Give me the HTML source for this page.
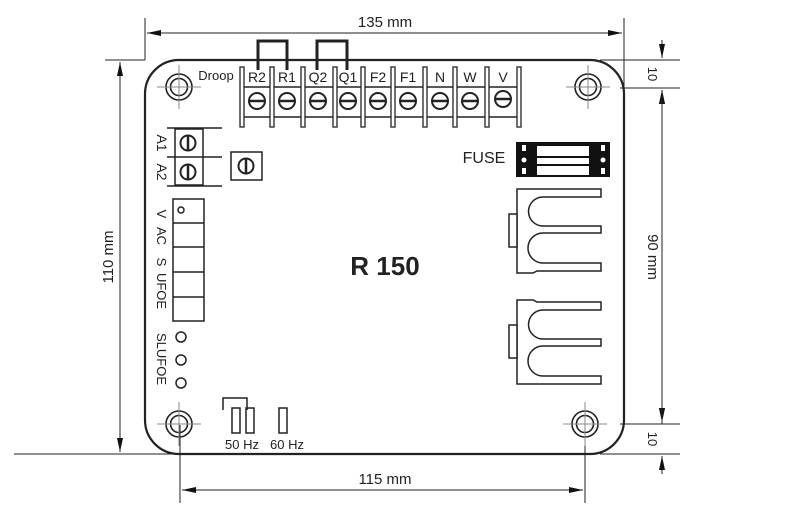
<!DOCTYPE html>
<html><head><style>body{margin:0;background:#fff}svg{display:block}</style></head><body>
<svg width="793" height="514" viewBox="0 0 793 514" xmlns="http://www.w3.org/2000/svg" font-family="Liberation Sans, sans-serif">
<defs>
<marker id="a" viewBox="0 0 10 10" refX="10" refY="5" markerWidth="14" markerHeight="6" preserveAspectRatio="none" orient="auto-start-reverse" markerUnits="userSpaceOnUse"><path d="M0,0L10,5L0,10z" fill="#111"/></marker>
<g id="hole"><circle r="13" fill="none" stroke="#222" stroke-width="1.6"/><circle r="8.5" fill="none" stroke="#222" stroke-width="1.6"/><path d="M-22,0H22M0,-22V22" stroke="#888" stroke-width="1"/></g>
<g id="scr"><circle r="8" fill="#fff" stroke="#222" stroke-width="2"/><path d="M-7,0H7" stroke="#222" stroke-width="2.5"/></g>
<g id="scv"><circle r="7.5" fill="#fff" stroke="#222" stroke-width="2"/><path d="M0,-6.5V6.5" stroke="#222" stroke-width="2.5"/></g>
</defs>
<g stroke="#222" fill="none" stroke-width="1">
<path d="M145,18V60M624,18V88M105,60H145M14,454H180M180,425V503M585,425V503M600,60H680M620,88H680M620,424H680M600,454H680"/>
<path d="M147,33H622" marker-start="url(#a)" marker-end="url(#a)"/>
<path d="M120,62V452" marker-start="url(#a)" marker-end="url(#a)"/>
<path d="M182,490H583" marker-start="url(#a)" marker-end="url(#a)"/>
<path d="M662,40V58" marker-end="url(#a)"/><path d="M662,108V90" marker-end="url(#a)"/>
<path d="M662,90V422" marker-start="url(#a)" marker-end="url(#a)"/>
<path d="M662,404V422" marker-end="url(#a)"/><path d="M662,474V456" marker-end="url(#a)"/>
<path d="M662,90V108M662,404V424"/>
<rect x="145" y="60" width="479" height="394" rx="34" stroke-width="2.2"/>
</g>
<g fill="#222" font-size="15">
<text x="385" y="27" text-anchor="middle">135 mm</text>
<text x="385" y="484" text-anchor="middle">115 mm</text>
<text transform="translate(113,257) rotate(-90)" text-anchor="middle">110 mm</text>
<text transform="translate(648,257) rotate(90)" text-anchor="middle">90 mm</text>
<text transform="translate(648,74) rotate(90)" text-anchor="middle" font-size="13">10</text>
<text transform="translate(648,439) rotate(90)" text-anchor="middle" font-size="13">10</text>
<text x="385" y="275" text-anchor="middle" font-size="26" font-weight="bold">R 150</text>
</g>
<use href="#hole" x="179" y="87"/><use href="#hole" x="588" y="87"/>
<use href="#hole" x="179" y="424"/><use href="#hole" x="585" y="424"/>
<g stroke="#222" stroke-width="1.5" fill="none">
<path d="M242,87H519M242,117H519"/>
<path d="M258,70V41H287V70M317,70V41H347V70" stroke-width="3"/>
</g>
<g fill="#fff" stroke="#222" stroke-width="1.3">
<rect x="240" y="67" width="4" height="60"/><rect x="270" y="67" width="4" height="60"/><rect x="301" y="67" width="4" height="60"/><rect x="333" y="67" width="4" height="60"/><rect x="361" y="67" width="4" height="60"/><rect x="391" y="67" width="4" height="60"/><rect x="423" y="67" width="4" height="60"/><rect x="453" y="67" width="4" height="60"/><rect x="485" y="67" width="4" height="60"/><rect x="517" y="67" width="4" height="60"/>
</g>
<use href="#scr" x="257" y="101"/><use href="#scr" x="287" y="101"/><use href="#scr" x="318" y="101"/><use href="#scr" x="348" y="101"/><use href="#scr" x="378" y="101"/><use href="#scr" x="408" y="101"/><use href="#scr" x="440" y="101"/><use href="#scr" x="470" y="101"/><use href="#scr" x="503" y="99"/>
<g fill="#222" font-size="14" text-anchor="middle">
<text x="257" y="82">R2</text><text x="287" y="82">R1</text><text x="318" y="82">Q2</text><text x="348" y="82">Q1</text><text x="378" y="82">F2</text><text x="408" y="82">F1</text><text x="440" y="82">N</text><text x="470" y="82">W</text><text x="503" y="82">V</text>
<text x="216" y="80" font-size="13">Droop</text>
<text x="484" y="163" font-size="16">FUSE</text>
</g>
<g stroke="#222" stroke-width="1.5" fill="none">
<path d="M167,128H222M167,157H222M167,186H222"/>
<rect x="175" y="129" width="28" height="56"/>
<rect x="231" y="152" width="31" height="28"/>
</g>
<use href="#scv" x="188" y="143"/><use href="#scv" x="188" y="172"/><use href="#scv" x="246" y="166"/>
<g fill="#222" font-size="14" text-anchor="middle">
<text transform="translate(157,143) rotate(90)">A1</text>
<text transform="translate(157,172) rotate(90)">A2</text>
<text transform="translate(157,214) rotate(90)" font-size="13">V</text>
<text transform="translate(157,236) rotate(90)" font-size="13">AC</text>
<text transform="translate(157,262) rotate(90)" font-size="13">S</text>
<text transform="translate(157,291) rotate(90)" font-size="13">UFOE</text>
<text transform="translate(157,359) rotate(90)" font-size="13">SLUFOE</text>
<text x="242" y="449" font-size="13">50 Hz</text>
<text x="287" y="449" font-size="13">60 Hz</text>
</g>
<g stroke="#222" stroke-width="1.5" fill="none">
<rect x="173" y="199" width="31" height="122"/>
<path d="M173,223H204M173,247H204M173,272H204M173,297H204"/>
<circle cx="181" cy="210" r="3"/>
<circle cx="181" cy="337" r="5"/><circle cx="181" cy="360" r="5"/><circle cx="181" cy="383" r="5"/>
<path d="M223,410V398H247V410"/>
<rect x="232" y="408" width="8" height="25"/><rect x="246" y="408" width="8" height="25"/><rect x="279" y="408" width="8" height="25"/>
</g>
<rect x="516" y="142" width="94" height="35" fill="#111"/>
<rect x="537" y="146" width="52" height="10" fill="#fff"/><rect x="537" y="158" width="52" height="6" fill="#fff"/><rect x="537" y="166" width="52" height="9" fill="#fff"/>
<g fill="#fff"><rect x="522" y="145" width="4" height="6"/><circle cx="524" cy="160" r="2.5"/><rect x="522" y="168" width="4" height="6"/><rect x="601" y="145" width="4" height="6"/><circle cx="603" cy="160" r="2.5"/><rect x="601" y="168" width="4" height="6"/></g>
<g stroke="#222" stroke-width="1.5" fill="#fff">
<path d="M517,189H601V197H543A13,13 0 0 0 543,226H601V233H543A13,13 0 0 0 543,263H601V271H537L533,273H517Z"/>
<path d="M517,300H533L537,302H601V310H543A13,13 0 0 0 543,339H601V346H543A13,13 0 0 0 543,376H601V384H517Z"/>
<rect x="509" y="214" width="8" height="33"/><rect x="509" y="325" width="8" height="33"/>
</g>
<g fill="#fff"><rect x="511" y="218" width="4" height="6"/><rect x="511" y="237" width="4" height="6"/><rect x="511" y="329" width="4" height="6"/><rect x="511" y="348" width="4" height="6"/></g>
</svg>
</body></html>
